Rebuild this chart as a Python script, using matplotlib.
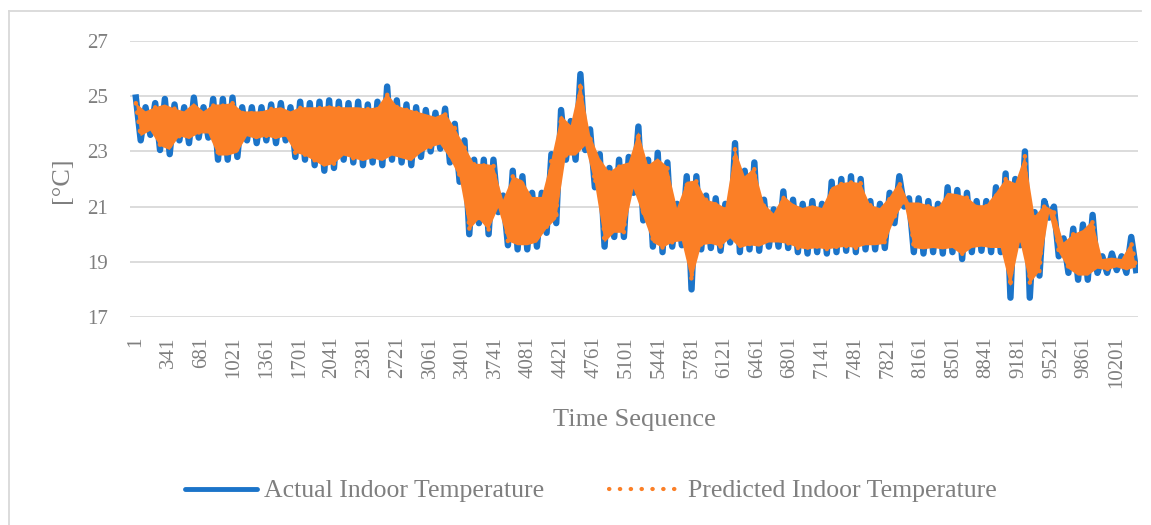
import matplotlib.pyplot as plt
import numpy as np
from matplotlib.lines import Line2D

# envelope: one high / one low per ~100 samples
actual_hi = [24.95, 24.6, 24.75, 24.9, 24.7, 24.6, 24.95, 24.6, 24.9, 24.9,
             24.95, 24.6, 24.6, 24.6, 24.7, 24.75, 24.6, 24.8, 24.75, 24.8,
             24.85, 24.8, 24.75, 24.8, 24.7, 24.8, 25.35, 24.85, 24.7, 24.6,
             24.5, 24.4, 24.55, 24.0, 23.4, 22.7, 22.7, 22.7, 21.4, 22.3,
             22.1, 21.5, 21.5, 22.9, 24.5, 24.1, 25.8, 23.8, 22.9, 22.4,
             22.7, 22.8, 23.9, 22.7, 22.95, 22.6, 21.1, 22.1, 22.1, 21.4,
             21.3, 21.1, 23.3, 22.3, 22.6, 21.25, 20.9, 21.55, 21.25, 21.1,
             21.2, 21.1, 21.9, 22.0, 22.1, 22.0, 21.2, 21.1, 21.5, 22.1,
             21.3, 21.3, 21.2, 21.1, 21.7, 21.6, 21.5, 21.2, 21.2, 21.7,
             22.2, 22.0, 23.0, 20.8, 21.2, 21.0, 19.85, 20.2, 20.35, 20.7,
             19.2, 19.3, 19.2, 19.9]
actual_lo = [23.4, 23.6, 23.05, 22.9, 23.4, 23.3, 23.5, 23.5, 22.7, 22.7,
             22.8, 23.4, 23.3, 23.4, 23.3, 23.4, 22.8, 22.7, 22.5, 22.3,
             22.4, 22.7, 22.6, 22.5, 22.6, 22.5, 22.7, 22.6, 22.5, 22.8,
             23.0, 23.1, 22.6, 21.9, 20.0, 20.4, 20.0, 20.8, 19.6, 19.45,
             19.45, 19.55, 20.05, 20.4, 22.7, 22.7, 23.05, 21.7, 19.55, 19.9,
             19.9, 21.5, 20.5, 19.55, 19.35, 19.55, 19.6, 18.0, 19.45, 19.5,
             19.4, 19.7, 19.35, 19.45, 19.4, 19.55, 19.55, 19.5, 19.35, 19.3,
             19.35, 19.3, 19.35, 19.4, 19.35, 19.45, 19.45, 19.5, 20.4, 21.0,
             19.35, 19.3, 19.35, 19.3, 19.35, 19.1, 19.35, 19.4, 19.35, 19.35,
             17.7, 19.6, 17.7, 18.5, 20.6, 19.2, 18.6, 18.35, 18.35, 18.6,
             18.6, 18.7, 18.6, 18.7]
pred_hi = [24.75, 24.45, 24.6, 24.7, 24.55, 24.45, 24.75, 24.45, 24.7, 24.7,
           24.75, 24.45, 24.45, 24.45, 24.55, 24.6, 24.45, 24.6, 24.6, 24.6,
           24.65, 24.6, 24.6, 24.6, 24.55, 24.6, 25.1, 24.65, 24.55, 24.45,
           24.35, 24.25, 24.4, 23.85, 23.2, 22.55, 22.55, 22.5, 21.25, 22.1,
           21.95, 21.35, 21.35, 22.7, 24.3, 23.95, 25.5, 23.6, 22.75, 22.25,
           22.5, 22.6, 23.7, 22.5, 22.75, 22.45, 20.95, 21.9, 21.95, 21.25,
           21.15, 20.95, 23.1, 22.1, 22.4, 21.1, 20.75, 21.4, 21.1, 20.95,
           21.05, 20.95, 21.7, 21.85, 21.9, 21.85, 21.05, 20.95, 21.35, 21.9,
           21.15, 21.15, 21.05, 20.95, 21.5, 21.45, 21.35, 21.05, 21.05, 21.5,
           22.0, 21.85, 22.85, 20.65, 21.05, 20.85, 19.7, 20.0, 20.15, 20.5,
           19.1, 19.15, 19.1, 19.7]
pred_lo = [23.55, 23.75, 23.2, 23.05, 23.55, 23.45, 23.65, 23.65, 22.85, 22.85,
           22.95, 23.55, 23.45, 23.55, 23.45, 23.55, 22.95, 22.85, 22.65, 22.45,
           22.55, 22.85, 22.75, 22.65, 22.75, 22.65, 22.85, 22.75, 22.65, 22.95,
           23.15, 23.25, 22.75, 22.05, 20.15, 20.55, 20.15, 20.95, 19.75, 19.6,
           19.6, 19.7, 20.2, 20.55, 22.85, 22.85, 23.2, 21.85, 19.7, 20.05,
           20.05, 21.65, 20.65, 19.7, 19.5, 19.7, 19.75, 18.3, 19.6, 19.65,
           19.55, 19.85, 19.5, 19.6, 19.55, 19.7, 19.7, 19.65, 19.5, 19.45,
           19.5, 19.45, 19.5, 19.55, 19.5, 19.6, 19.6, 19.65, 20.55, 21.15,
           19.5, 19.45, 19.5, 19.45, 19.5, 19.25, 19.5, 19.55, 19.5, 19.5,
           18.1, 19.75, 18.2, 18.65, 20.75, 19.35, 18.75, 18.5, 18.5, 18.75,
           18.7, 18.8, 18.7, 18.8]
xtick_labels = [1, 341, 681, 1021, 1361, 1701, 2041, 2381, 2721, 3061, 3401,
                3741, 4081, 4421, 4761, 5101, 5441, 5781, 6121, 6461, 6801,
                7141, 7481, 7821, 8161, 8501, 8841, 9181, 9521, 9861, 10201]
n_samples = 10400

actual = np.column_stack([actual_hi, actual_lo]).ravel()
pred = np.column_stack([pred_hi, pred_lo]).ravel()
t = np.linspace(1, n_samples, len(actual))

plt.rcParams['font.family'] = ['Liberation Serif', 'DejaVu Serif']
gray = '#7f7f7f'
blue = '#1b74c9'
orange = '#fb7f26'

fig = plt.figure(figsize=(11.51, 5.25), dpi=100)
ax = fig.add_axes([130 / 1151, 1 - 317 / 525, 1008 / 1151, 276 / 525])

ax.plot(t, actual, color=blue, lw=4.6, solid_joinstyle='round', zorder=2)
# the predicted swings are too dense to resolve: shade their envelope
band_x = np.concatenate([t[0::2], t[1::2][::-1]])
band_y = np.concatenate([pred[0::2], pred[1::2][::-1]])
ax.fill(band_x, band_y, color=orange, lw=0, zorder=2.5)
ax.plot(t, pred, color=orange, lw=3.2, linestyle=(0, (0.1, 2.0)),
        dash_capstyle='round', zorder=3)

ax.set_ylim(17, 27)
ax.set_yticks([17, 19, 21, 23, 25, 27])
ax.set_xlim(-60, 10420)
ax.set_xticks(xtick_labels)
ax.set_xticklabels([str(v) for v in xtick_labels], rotation=90, va='top')
ax.grid(axis='y', color='#d9d9d9', lw=1.3)
ax.set_axisbelow(True)
for s in ax.spines.values():
    s.set_visible(False)
ax.tick_params(length=0, labelsize=15, labelcolor=gray)
ax.tick_params(axis='x', pad=14)
ax.tick_params(axis='y', pad=16)

fig.text(62 / 1151, 1 - 180 / 525, '[°C]', rotation=90, ha='center',
         va='center', fontsize=19, color=gray)
fig.text(634 / 1151, 1 - 420 / 525, 'Time Sequence', ha='center',
         va='center', fontsize=19, color=gray)

handles = [Line2D([], [], color=blue, lw=3.5, solid_capstyle='round'),
           Line2D([], [], color=orange, lw=3.0, linestyle=(0, (0.1, 2.5)),
                  dash_capstyle='round')]
fig.legend(handles, ['Actual Indoor Temperature', 'Predicted Indoor Temperature'],
           loc='center', bbox_to_anchor=(591 / 1151, 1 - 491 / 525), ncol=2,
           frameon=False, fontsize=18.5, labelcolor=gray, handlelength=2.8,
           handletextpad=0.3, columnspacing=2.5)

# chart area border (left and top edges visible)
fig.add_artist(Line2D([9 / 1151, 9 / 1151], [0, 1 - 11 / 525],
                      color='#d9d9d9', lw=1.3))
fig.add_artist(Line2D([9 / 1151, 1141 / 1151], [1 - 11 / 525, 1 - 11 / 525],
                      color='#d9d9d9', lw=1.3))

fig.savefig('out.png', dpi=100)
